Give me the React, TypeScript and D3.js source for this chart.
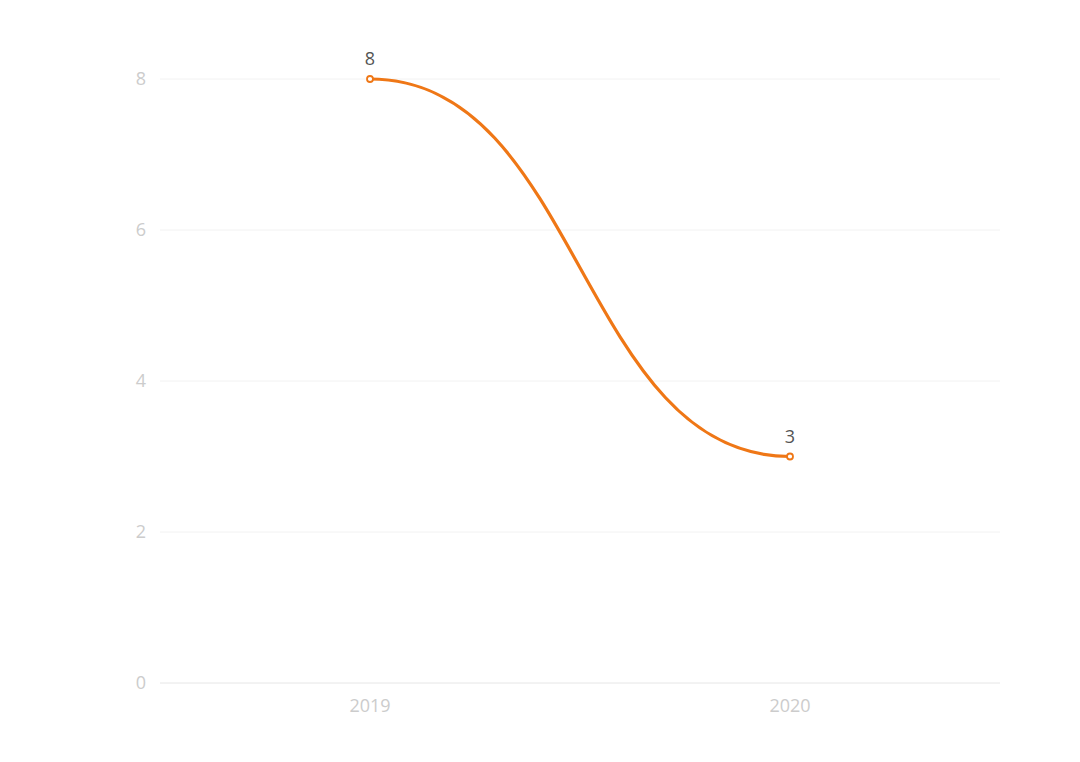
import React, { useEffect } from "react";
import * as d3 from "d3";

const categories = ["2019", "2020"];
const values = [8, 3];
const yTicks = [0, 2, 4, 6, 8];

const W = 1080;
const H = 762;
const left = 160;
const right = 1000;
const top = 79;
const bottom = 683;
const color = "#ef7716";

export default function App() {
  useEffect(() => {
    document.body.style.margin = "0";
  }, []);
  const x = d3.scaleBand<string>().domain(categories).range([left, right]);
  const y = d3.scaleLinear().domain([0, 8]).range([bottom, top]);
  const pts: [number, number][] = categories.map((c, i) => [
    (x(c) as number) + x.bandwidth() / 2,
    y(values[i]),
  ]);
  const line = d3.line().curve(d3.curveBumpX)(pts) || "";
  const font = "'Open Sans', 'Noto Sans', sans-serif";
  return (
    <svg width={W} height={H} style={{ display: "block", background: "#fff" }} fontFamily={font}>
      {yTicks.map((t) => (
        <g key={t}>
          <line x1={left} x2={right} y1={y(t)} y2={y(t)} stroke={t === 0 ? "#e6e6e6" : "#f2f2f2"} strokeWidth={1} />
          <text x={146} y={y(t)} dy="0.35em" textAnchor="end" fontSize={18} fill="#cccccc">
            {t}
          </text>
        </g>
      ))}
      {categories.map((c) => (
        <text key={c} x={(x(c) as number) + x.bandwidth() / 2} y={712} textAnchor="middle" fontSize={18} fill="#cccccc">
          {c}
        </text>
      ))}
      <path d={line} fill="none" stroke={color} strokeWidth={3.2} />
      {pts.map((p, i) => (
        <g key={i}>
          <circle cx={p[0]} cy={p[1]} r={3} fill="#fff" stroke={color} strokeWidth={1.8} />
          <text x={p[0]} y={p[1] - 14} textAnchor="middle" fontSize={18} fill="#555">
            {values[i]}
          </text>
        </g>
      ))}
    </svg>
  );
}
